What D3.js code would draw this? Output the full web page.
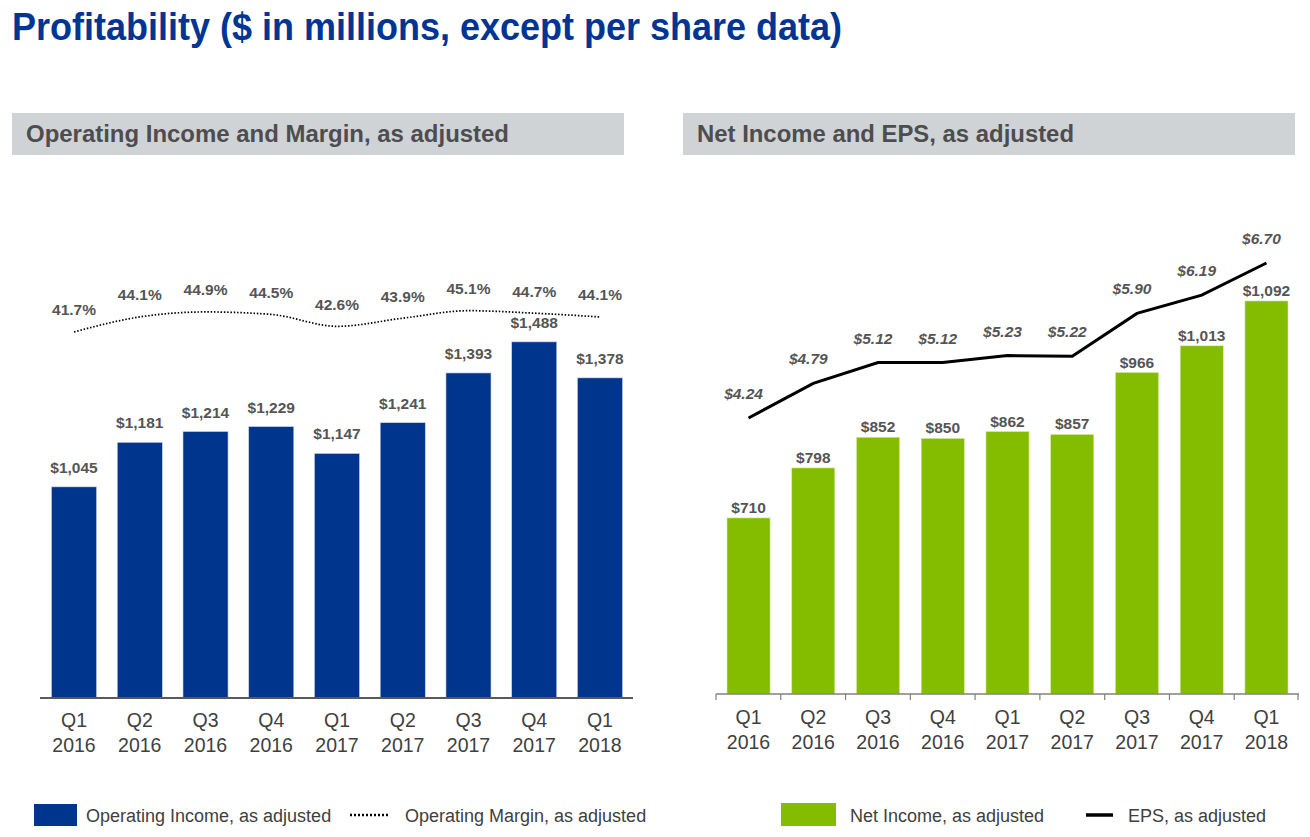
<!DOCTYPE html>
<html><head><meta charset="utf-8">
<script src="https://cdn.jsdelivr.net/npm/d3@7/dist/d3.min.js"></script>
<style>body{margin:0;background:#fff;} svg{display:block;font-family:"Liberation Sans",Arial,sans-serif;}</style>
</head><body>
<script>
const categories = [["Q1","2016"],["Q2","2016"],["Q3","2016"],["Q4","2016"],["Q1","2017"],["Q2","2017"],["Q3","2017"],["Q4","2017"],["Q1","2018"]];
const operatingIncome = [1045,1181,1214,1229,1147,1241,1393,1488,1378];
const operatingMargin = [41.7,44.1,44.9,44.5,42.6,43.9,45.1,44.7,44.1];
const netIncome = [710,798,852,850,862,857,966,1013,1092];
const eps = [4.24,4.79,5.12,5.12,5.23,5.22,5.90,6.19,6.70];

const W=1310,H=837;
const BLUE="#00358E", GREEN="#84BC00", TXT="#555555", AX="#404040";
const svg=d3.select("body").append("svg").attr("width",W).attr("height",H);
const keys=categories.map((c,i)=>i);
const money=d3.format(",");

svg.append("text").attr("x",12).attr("y",40).attr("font-size",38).attr("font-weight","bold")
  .attr("fill","#003594").attr("textLength",830).attr("lengthAdjust","spacingAndGlyphs")
  .text("Profitability ($ in millions, except per share data)");

function header(x,w,label,tl){
  svg.append("rect").attr("x",x).attr("y",113).attr("width",w).attr("height",42).attr("fill","#D0D3D6");
  svg.append("text").attr("x",x+14).attr("y",142).attr("font-size",23).attr("font-weight","bold")
    .attr("fill","#4D4D4F").attr("textLength",tl).attr("lengthAdjust","spacingAndGlyphs").text(label);
}
header(12,612,"Operating Income and Margin, as adjusted",483);
header(683,612,"Net Income and EPS, as adjusted",377);

function xLabels(x,base,dy){
  const g=svg.append("g");
  keys.forEach(i=>{
    const cx=x(i)+x.bandwidth()/2;
    g.append("text").attr("x",cx).attr("y",base+dy).attr("text-anchor","middle").attr("font-size",19.5).attr("fill",AX).text(categories[i][0]);
    g.append("text").attr("x",cx).attr("y",base+dy+25).attr("text-anchor","middle").attr("font-size",19.5).attr("fill",AX).text(categories[i][1]);
  });
}

// ---- Left chart
const xL=d3.scaleBand().domain(keys).range([41,633]).paddingInner(0.315).paddingOuter(0.16);
const yL=d3.scaleLinear().domain([400,1600]).range([698,305.2]);
const yM=d3.scaleLinear().domain([30,50]).range([405.2,280]);
svg.append("g").selectAll("rect").data(operatingIncome).join("rect")
  .attr("x",(d,i)=>xL(i)).attr("width",xL.bandwidth()).attr("y",d=>yL(d)).attr("height",d=>yL(400)-yL(d))
  .attr("fill",BLUE).attr("stroke","#c8d0e4").attr("stroke-width",0.6);
svg.append("g").selectAll("text").data(operatingIncome).join("text")
  .attr("x",(d,i)=>xL(i)+xL.bandwidth()/2).attr("y",d=>yL(d)-14).attr("text-anchor","middle")
  .attr("font-size",15.5).attr("font-weight","bold").attr("fill",TXT).text(d=>"$"+money(d));
const axL=d3.axisBottom(xL).tickSize(0).tickFormat("");
const gaL=svg.append("g").attr("transform","translate(0,698)").call(axL);
gaL.select(".domain").attr("stroke","#595959").attr("stroke-width",2).attr("d","M40,0H633");
xLabels(xL,698,29);
const lineM=d3.line().x((d,i)=>xL(i)+xL.bandwidth()/2).y(d=>yM(d)).curve(d3.curveMonotoneX);
svg.append("path").datum(operatingMargin).attr("d",lineM).attr("fill","none").attr("stroke","#000")
  .attr("stroke-width",1.7).attr("stroke-dasharray","1.5,1.8");
svg.append("g").selectAll("text").data(operatingMargin).join("text")
  .attr("x",(d,i)=>xL(i)+xL.bandwidth()/2).attr("y",d=>yM(d)-16.5).attr("text-anchor","middle")
  .attr("font-size",15.5).attr("font-weight","bold").attr("fill",TXT).text(d=>d.toFixed(1)+"%");

// ---- Right chart
const xR=d3.scaleBand().domain(keys).range([716,1299]).paddingInner(0.335).paddingOuter(0.17);
const yR=d3.scaleLinear().domain([400,1200]).range([694,239.6]);
const yE=d3.scaleLinear().domain([0,8]).range([685.1,181.1]);
svg.append("g").selectAll("rect").data(netIncome).join("rect")
  .attr("x",(d,i)=>xR(i)).attr("width",xR.bandwidth()).attr("y",d=>yR(d)).attr("height",d=>yR(400)-yR(d))
  .attr("fill",GREEN).attr("stroke","#d6eaa0").attr("stroke-width",0.6);
svg.append("g").selectAll("text").data(netIncome).join("text")
  .attr("x",(d,i)=>xR(i)+xR.bandwidth()/2).attr("y",d=>yR(d)-5).attr("text-anchor","middle")
  .attr("font-size",15.5).attr("font-weight","bold").attr("fill",TXT).text(d=>"$"+money(d));
const gaR=svg.append("g").attr("transform","translate(0,694)");
gaR.append("line").attr("x1",716).attr("x2",1299).attr("stroke","#808080").attr("stroke-width",1.5);
const start=xR.range()[0];
gaR.selectAll("line.tk").data(d3.range(10)).join("line").attr("class","tk")
  .attr("x1",i=>Math.min(start+i*(583/9),1298)).attr("x2",i=>Math.min(start+i*(583/9),1298))
  .attr("y1",0).attr("y2",6).attr("stroke","#808080").attr("stroke-width",1.2);
xLabels(xR,694,30);
const lineE=d3.line().x((d,i)=>xR(i)+xR.bandwidth()/2).y(d=>yE(d));
svg.append("path").datum(eps).attr("d",lineE).attr("fill","none").attr("stroke","#000").attr("stroke-width",3);
svg.append("g").selectAll("text").data(eps).join("text")
  .attr("x",(d,i)=>xR(i)+xR.bandwidth()/2-5).attr("y",d=>yE(d)-19).attr("text-anchor","middle")
  .attr("font-size",15.5).attr("font-weight","bold").attr("font-style","italic").attr("fill",TXT).text(d=>"$"+d.toFixed(2));

// ---- Legends
const lg=svg.append("g").attr("font-size",18).attr("fill",AX);
lg.append("rect").attr("x",34).attr("y",804).attr("width",43).attr("height",22).attr("fill",BLUE);
lg.append("text").attr("x",86).attr("y",822).text("Operating Income, as adjusted");
lg.append("line").attr("x1",350).attr("x2",389).attr("y1",815).attr("y2",815).attr("stroke","#000").attr("stroke-width",2.5).attr("stroke-dasharray","2,2");
lg.append("text").attr("x",405).attr("y",822).text("Operating Margin, as adjusted");
lg.append("rect").attr("x",781).attr("y",803).attr("width",55).attr("height",23).attr("fill",GREEN);
lg.append("text").attr("x",850).attr("y",822).text("Net Income, as adjusted");
lg.append("line").attr("x1",1086).attr("x2",1113).attr("y1",815).attr("y2",815).attr("stroke","#000").attr("stroke-width",3.5);
lg.append("text").attr("x",1128).attr("y",822).text("EPS, as adjusted");
</script>
</body></html>
